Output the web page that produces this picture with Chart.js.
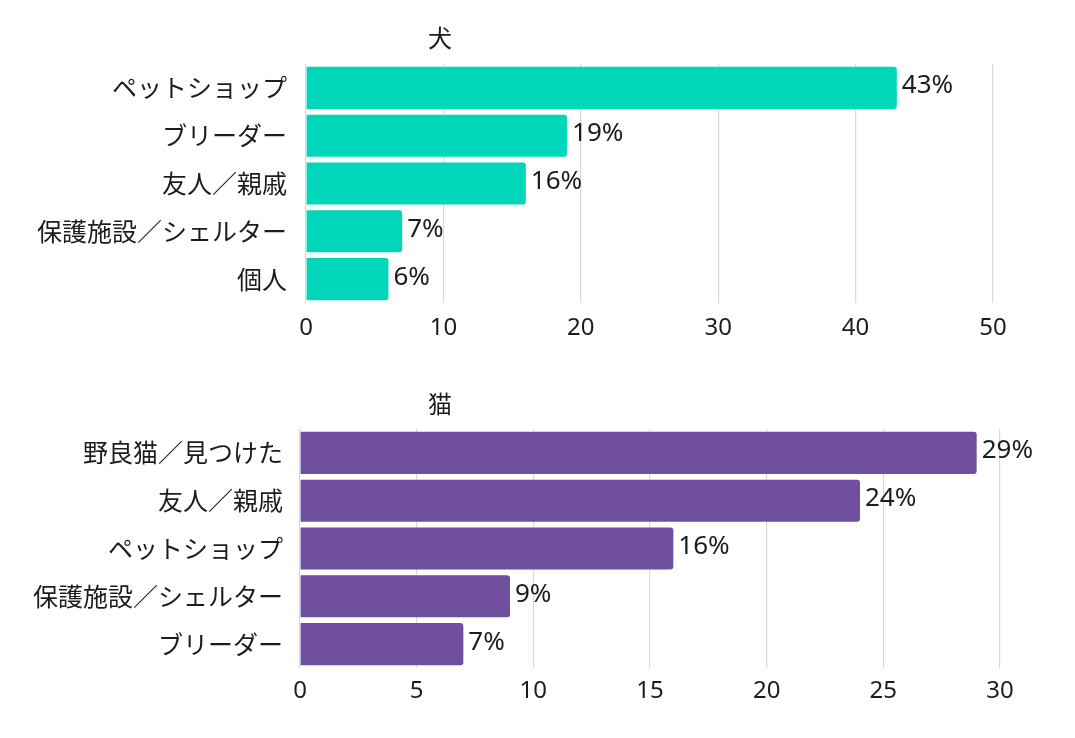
<!DOCTYPE html>
<html>
<head>
<meta charset="utf-8">
<script src="https://cdn.jsdelivr.net/npm/chart.js@4"></script>
<style>
html,body{margin:0;padding:0;background:#fff;}
#wrap{position:relative;width:1075px;height:738px;}
.pane{position:absolute;left:0;width:1075px;height:369px;}
</style>
</head>
<body>
<div id="wrap">
  <div class="pane" style="top:0"><canvas id="dog"></canvas></div>
  <div class="pane" style="top:369px"><canvas id="cat"></canvas></div>
</div>
<script>
const dogTitle = '犬';
const dogCategories = ['ペットショップ', 'ブリーダー', '友人／親戚', '保護施設／シェルター', '個人'];
const dogValues = [43, 19, 16, 7, 6];
const dogTicks = [0, 10, 20, 30, 40, 50];

const catTitle = '猫';
const catCategories = ['野良猫／見つけた', '友人／親戚', 'ペットショップ', '保護施設／シェルター', 'ブリーダー'];
const catValues = [29, 24, 16, 9, 7];
const catTicks = [0, 5, 10, 15, 20, 25, 30];

const FONT = "'Noto Sans', 'Noto Sans CJK JP', sans-serif";
const CJK = "'Noto Sans CJK JP', 'Noto Sans', sans-serif";
const TEXT = '#1c1c1c';

const valueLabels = {
  id: 'valueLabels',
  afterDatasetsDraw(chart) {
    const ctx = chart.ctx;
    ctx.save();
    ctx.font = '26px ' + FONT;
    ctx.fillStyle = TEXT;
    ctx.textAlign = 'left';
    ctx.textBaseline = 'middle';
    chart.data.datasets.forEach((ds, di) => {
      chart.getDatasetMeta(di).data.forEach((bar, i) => {
        ctx.fillText(ds.data[i] + '%', bar.x + 5, bar.y - 2);
      });
    });
    ctx.restore();
  }
};

const panelTitle = {
  id: 'panelTitle',
  afterDraw(chart, args, opts) {
    const ctx = chart.ctx;
    ctx.save();
    ctx.font = '24px ' + CJK;
    ctx.fillStyle = TEXT;
    ctx.textAlign = 'center';
    ctx.textBaseline = 'middle';
    ctx.fillText(opts.text, opts.x, opts.y);
    ctx.restore();
  }
};

function makeChart(id, title, cats, vals, ticks, color, cfg) {
  return new Chart(document.getElementById(id), {
    type: 'bar',
    data: {
      labels: cats,
      datasets: [{
        data: vals,
        backgroundColor: color,
        borderColor: color,
        borderWidth: 0,
        borderRadius: 3,
        borderSkipped: 'start',
        categoryPercentage: 1,
        barPercentage: 0.88
      }]
    },
    options: {
      indexAxis: 'y',
      responsive: true,
      maintainAspectRatio: false,
      animation: false,
      layout: { padding: { top: cfg.top, right: cfg.right, left: 0, bottom: 0 } },
      plugins: {
        legend: { display: false },
        title: { display: false },
        tooltip: { enabled: false },
        panelTitle: { text: title, x: 440, y: cfg.titleY }
      },
      scales: {
        x: {
          min: ticks[0],
          max: ticks[ticks.length - 1],
          ticks: {
            stepSize: ticks[1] - ticks[0],
            color: TEXT,
            padding: cfg.tickPad,
            font: { family: FONT, size: 24 }
          },
          grid: { color: '#d9d9d9', lineWidth: 1.2, drawTicks: false },
          border: { display: false },
          afterFit(s) { s.height = cfg.xHeight; }
        },
        y: {
          ticks: {
            color: TEXT,
            padding: cfg.yPad,
            font: { family: CJK, size: 25 }
          },
          grid: { display: false },
          border: { display: false },
          afterFit(s) { s.width = cfg.yWidth; }
        }
      }
    },
    plugins: [valueLabels, panelTitle]
  });
}

makeChart('dog', dogTitle, dogCategories, dogValues, dogTicks, '#00d6b9',
  { top: 64, right: 82, xHeight: 66, yWidth: 306, tickPad: 11, yPad: 11, titleY: 38 });
makeChart('cat', catTitle, catCategories, catValues, catTicks, '#6f4f9e',
  { top: 60, right: 75, xHeight: 70, yWidth: 300, tickPad: 9, yPad: 9, titleY: 35 });
</script>
</body>
</html>
